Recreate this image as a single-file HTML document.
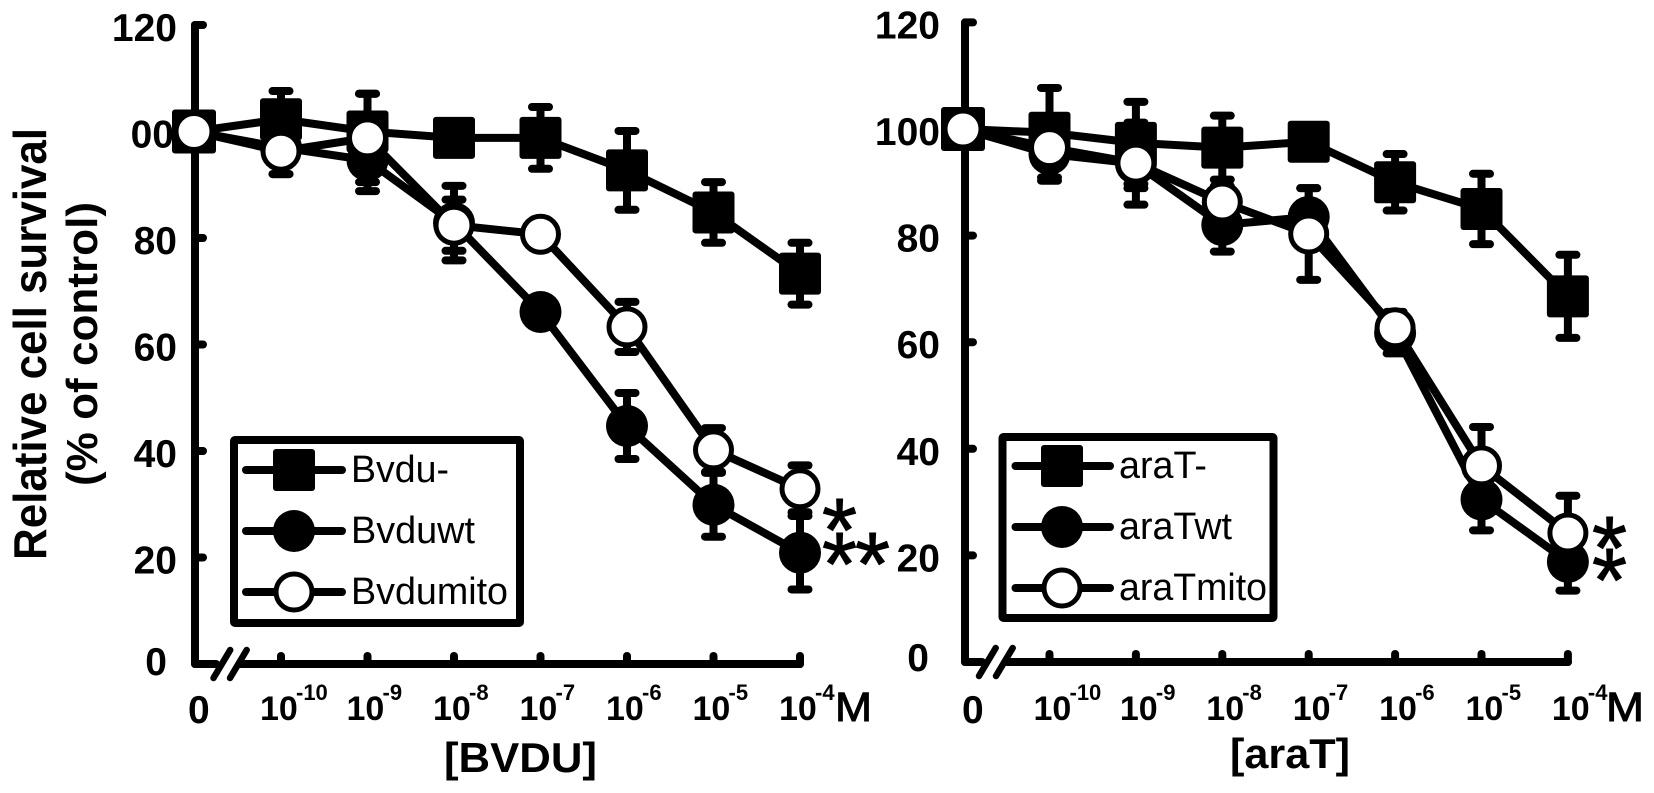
<!DOCTYPE html>
<html lang="en">
<head>
<meta charset="utf-8">
<title>Relative cell survival: BVDU and araT</title>
<style>
html,body{margin:0;padding:0;background:#fff;width:1654px;height:793px;overflow:hidden}
svg{display:block}
text{font-family:"Liberation Sans",sans-serif;fill:#000}
.b{font-weight:bold}
</style>
</head>
<body>
<svg id="chart" xmlns="http://www.w3.org/2000/svg" width="1654" height="793" viewBox="0 0 1654 793">
  <text class="b" transform="translate(46,560) rotate(-90)" font-size="46" textLength="432" lengthAdjust="spacingAndGlyphs">Relative cell survival</text>
  <text class="b" transform="translate(97,486) rotate(-90)" font-size="44" textLength="284" lengthAdjust="spacingAndGlyphs">(% of control)</text>
  <text class="b" x="444" y="772" font-size="42" textLength="153" lengthAdjust="spacingAndGlyphs">[BVDU]</text>
  <text class="b" x="1230" y="768" font-size="42" textLength="120" lengthAdjust="spacingAndGlyphs">[araT]</text>
  <text x="835" y="721" font-size="41" stroke="#000" stroke-width="1" textLength="37" lengthAdjust="spacingAndGlyphs">M</text>
  <text x="1606" y="721" font-size="41" stroke="#000" stroke-width="1" textLength="38" lengthAdjust="spacingAndGlyphs">M</text>
  <text x="822" y="561" font-size="90" stroke="#000" stroke-width="1">*</text>
  <text x="822" y="595" font-size="90" letter-spacing="-2" stroke="#000" stroke-width="1">**</text>
  <text x="1592" y="579" font-size="90" stroke="#000" stroke-width="1">*</text>
  <text x="1592" y="611" font-size="90" stroke="#000" stroke-width="1">*</text>
</svg>
<script>
const xCategories = ['0', '1e-10', '1e-9', '1e-8', '1e-7', '1e-6', '1e-5', '1e-4'];
const xTickExponents = ['-10', '-9', '-8', '-7', '-6', '-5', '-4'];
const yTickValues = [0, 20, 40, 60, 80, 100, 120];
const yTickLabelsBvdu = ['0', '20', '40', '60', '80', '00', '120'];
const yTickLabelsArat = ['0', '20', '40', '60', '80', '100', '120'];

const bvduMinus = [100, 102.3, 100, 98.8, 98.8, 92.7, 84.8, 73.3];
const bvduMinusErr = [0, 5.3, 7.1, 1, 5.8, 7.4, 5.7, 5.8];
const bvduWt = [100, 97, 94.6, 82.8, 66.1, 44.7, 29.9, 20.9];
const bvduWtErr = [0, 5, 5.8, 7, 0, 6.2, 6, 6.9];
const bvduMito = [100, 96.3, 98.8, 82.4, 80.7, 63.3, 40.2, 32.9];
const bvduMitoErr = [0, 4.3, 8.3, 4.8, 0, 4.7, 4.1, 4.4];

const araTMinus = [100, 99.3, 97.4, 96.5, 97.6, 90, 85, 68.6];
const araTMinusErr = [0, 8.4, 7.7, 6, 0, 5.3, 6.6, 7.8];
const araTWt = [100, 95.3, 93.5, 82, 83.5, 61.7, 30.5, 18.8];
const araTWtErr = [0, 5, 7.7, 5, 5.4, 3.8, 5.8, 5.4];
const araTMito = [100, 96.5, 93.6, 86.3, 80.3, 62.7, 36.8, 24.2];
const araTMitoErr = [0, 3, 4.7, 3, 8.6, 3, 7.3, 7];

const legendLabelsBvdu = ['Bvdu-', 'Bvduwt', 'Bvdumito'];
const legendLabelsArat = ['araT-', 'araTwt', 'araTmito'];
const markerKinds = ['square', 'closed', 'open'];

const svg = document.getElementById('chart');
const NS = 'http://www.w3.org/2000/svg';

function make(tag, attrs) {
  const el = document.createElementNS(NS, tag);
  for (const k in attrs) el.setAttribute(k, attrs[k]);
  svg.appendChild(el);
  return el;
}
function xScale(p, i) { return i === 0 ? p.zeroX : p.x1 + (i - 1) * p.step; }
function yScale(p, v) { return p.y0 - v * p.unit; }

function seg(x1, y1, x2, y2, w, cap) {
  return make('line', {x1: x1, y1: y1, x2: x2, y2: y2, stroke: '#000', 'stroke-width': w, 'stroke-linecap': cap || 'butt'});
}
function label(str, x, y, size, opts) {
  const t = make('text', Object.assign({x: x, y: y, 'font-size': size}, opts || {}));
  t.textContent = str;
  return t;
}
function marker(kind, x, y, size) {
  const s = size || 42;
  if (kind === 'square') {
    return make('rect', {x: x - s / 2, y: y - s / 2, width: s, height: s, rx: 3, fill: '#000'});
  }
  if (kind === 'closed') {
    return make('ellipse', {cx: x, cy: y, rx: 21, ry: 21, fill: '#000'});
  }
  return make('ellipse', {cx: x, cy: y, rx: 18, ry: 18, fill: '#fff', stroke: '#000', 'stroke-width': 5});
}

function drawAxes(p) {
  const yAxis = seg(p.axisX, yScale(p, 120), p.axisX, p.y0, 8, 'round');
  
  

  const base1 = seg(p.axisX, p.y0, p.break1, p.y0, 8, 'round');
  
  
  const base2 = seg(p.break2, p.y0, p.axisEnd, p.y0, 8, 'round');
  
  

  p.slashes.forEach(function (sx) {
    const s = seg(sx + 16.7, p.y0 - 14, sx, p.y0 + 14, 6.5, 'round');
    
    
  });

  yTickValues.forEach(function (v, i) {
    const y = yScale(p, v);
    if (v > 0) {
      const tick = seg(p.axisX, y, p.axisX + 8, y, 8, 'round');
      
      
    }
    const str = p.yLabels[i];
    const lblX = v === 0 ? p.zeroLabelRight : (str === '00' ? p.labelRight - 3 : p.labelRight);
    const dy = v === 0 ? p.zeroLabelDy : 16;
    const t = label(str, lblX, y + dy, 39, {'text-anchor': 'end', 'class': 'b'});
    
    
  });

  for (let i = 1; i < xCategories.length; i++) {
    const x = xScale(p, i);
    const tick = seg(x, p.y0, x, p.y0 - 8, 8, 'round');
    
    
    const base = label('10', x + p.labelOffset, 720, 34, {'class': 'b'});
    
    
    const sup = label(xTickExponents[i - 1], x + p.labelOffset + 36, 700, 22, {'class': 'b'});
    
    
  }
  const zero = label('0', p.zeroTickX, 723, 39, {'class': 'b'});
  
  
}

function drawErrorBars(p, s) {
  s.values.forEach(function (v, i) {
    const e = s.err[i];
    if (!e) return;
    const x = xScale(p, i);
    const top = yScale(p, v + e), bottom = yScale(p, v - e);
    const stem = seg(x, top, x, bottom, 8);
    
    
    [top, bottom].forEach(function (cy) {
      const cap = seg(x - p.capHalf, cy, x + p.capHalf, cy, 8, 'round');
      
      
    });
  });
}
function drawLine(p, s) {
  const pts = s.values.map(function (v, i) { return xScale(p, i) + ',' + yScale(p, v); }).join(' ');
  const line = make('polyline', {points: pts, fill: 'none', stroke: '#000', 'stroke-width': 8, 'stroke-linejoin': 'round'});
  
  
}
function drawMarkers(p, s) {
  s.values.forEach(function (v, i) {
    const m = marker(s.kind, xScale(p, i), yScale(p, v), i === 0 ? 44 : 42);
    
    
  });
}
function drawLegend(p) {
  const l = p.legend;
  const box = make('rect', {x: l.x, y: l.y, width: l.w, height: l.h, fill: 'none', stroke: '#000', 'stroke-width': 8, rx: 1});
  
  
  p.legendLabels.forEach(function (str, i) {
    const y = l.firstRow + i * l.rowGap;
    const ln = seg(l.lineX1, y, l.lineX2, y, 8, 'round');
    
    
    const m = marker(markerKinds[i], l.markerX, y);
    
    
    const t = label(str, l.textX, y + 12, 38, {textLength: l.textWidths[i], lengthAdjust: 'spacingAndGlyphs'});
    
    
  });
}
function drawPanel(p) {
  drawAxes(p);
  p.series.forEach(function (s) { drawErrorBars(p, s); });
  p.series.forEach(function (s) { drawLine(p, s); });
  p.series.forEach(function (s) { drawMarkers(p, s); });
  drawLegend(p);
}

drawPanel({
  id: 'bvdu', zeroX: 194, x1: 281, step: 86.5, y0: 664, unit: 5.325,
  axisX: 195, axisEnd: 800, break1: 216, break2: 240, slashes: [213.5, 230],
  labelRight: 177, zeroLabelRight: 167, zeroLabelDy: 11, zeroTickX: 188, labelOffset: -21, capHalf: 8.5,
  yLabels: yTickLabelsBvdu, legendLabels: legendLabelsBvdu,
  legend: {x: 234, y: 440, w: 286, h: 183, firstRow: 470, rowGap: 61, lineX1: 246, lineX2: 342, markerX: 294, textX: 351, textWidths: [98, 124, 157]},
  series: [
    {name: 'bvdu-minus', kind: 'square', values: bvduMinus, err: bvduMinusErr},
    {name: 'bvdu-wt', kind: 'closed', values: bvduWt, err: bvduWtErr},
    {name: 'bvdu-mito', kind: 'open', values: bvduMito, err: bvduMitoErr}
  ]
});
drawPanel({
  id: 'arat', zeroX: 963, x1: 1049.5, step: 86.4, y0: 662, unit: 5.33,
  axisX: 965, axisEnd: 1568, break1: 982, break2: 1007, slashes: [979, 996],
  labelRight: 940, zeroLabelRight: 929, zeroLabelDy: 9, zeroTickX: 962, labelOffset: -16, capHalf: 8.5,
  yLabels: yTickLabelsArat, legendLabels: legendLabelsArat,
  legend: {x: 1002.5, y: 437, w: 271, h: 181, firstRow: 466, rowGap: 61, lineX1: 1015.5, lineX2: 1110, markerX: 1062, textX: 1119, textWidths: [88, 113, 148]},
  series: [
    {name: 'arat-minus', kind: 'square', values: araTMinus, err: araTMinusErr},
    {name: 'arat-wt', kind: 'closed', values: araTWt, err: araTWtErr},
    {name: 'arat-mito', kind: 'open', values: araTMito, err: araTMitoErr}
  ]
});
</script>
</body>
</html>
